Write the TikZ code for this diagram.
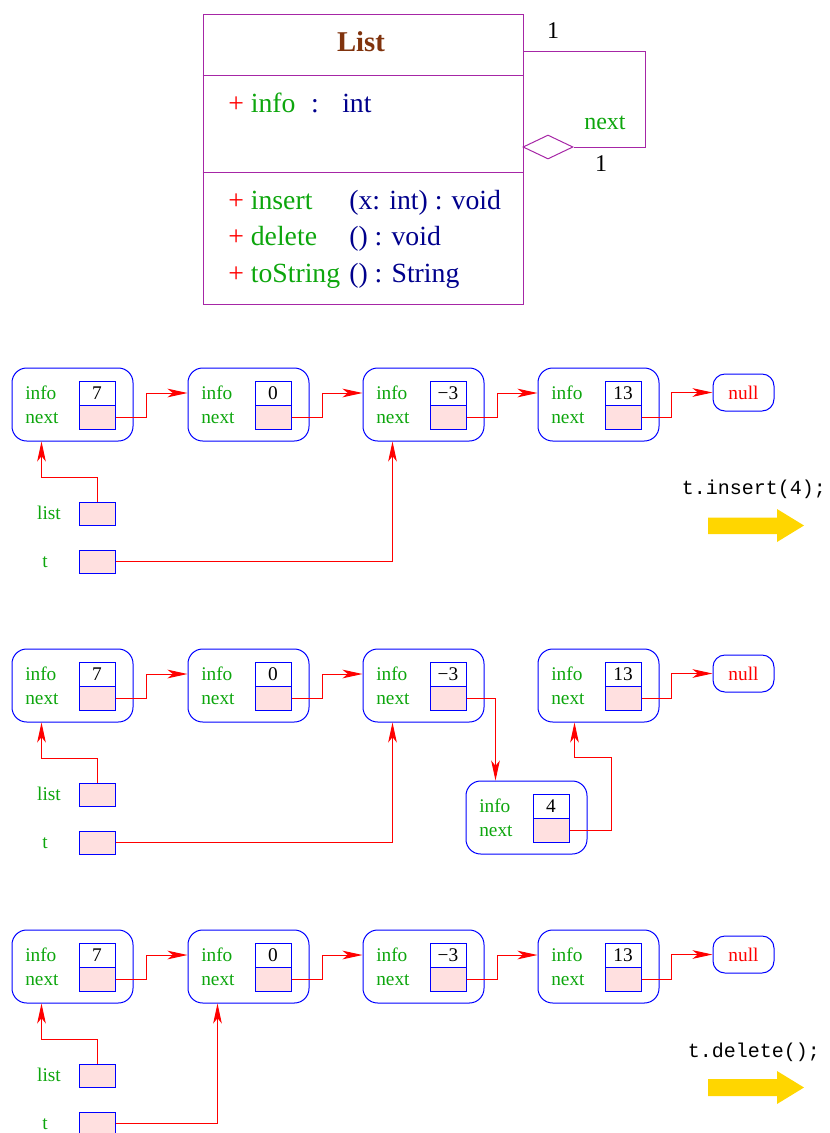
\documentclass[tikz,border=0pt]{standalone}
\usepackage{fontspec}
\setmainfont{Liberation Serif}
\setmonofont{Liberation Mono}
\usetikzlibrary{arrows.meta,shapes.geometric}

\definecolor{umlpurple}{rgb}{0.65,0.15,0.65}
\definecolor{attrgreen}{rgb}{0.05,0.65,0.05}
\definecolor{typeblue}{rgb}{0,0,0.55}
\definecolor{titlebrown}{rgb}{0.5,0.2,0.05}
\definecolor{cellpink}{rgb}{1,0.88,0.88}
\definecolor{arrowgold}{rgb}{1,0.84,0}

\tikzset{
  outerbox/.style={draw=blue, rounded corners=11pt, minimum width=90.75pt, minimum height=54.75pt, inner sep=0pt, line width=0.75pt},
  cellbox/.style={draw=blue, minimum width=27pt, minimum height=18pt, inner sep=0pt, line width=0.75pt, font=\fontsize{14.5}{16}\selectfont},
  ptrbox/.style={cellbox, fill=cellpink},
  fieldlbl/.style={anchor=base west, text=attrgreen, inner sep=0pt, font=\fontsize{14.5}{16}\selectfont},
  varlbl/.style={anchor=base, text=attrgreen, inner sep=0pt, font=\fontsize{14.5}{16}\selectfont},
  ptr/.style={draw=red, line width=0.75pt, -{Stealth[length=15pt,width=6.5pt,inset=4pt]}},
  umlline/.style={draw=umlpurple, line width=0.75pt},
  umltext/.style={inner sep=0pt, anchor=base west, font=\fontsize{20.8}{24}\selectfont},
  umlsmall/.style={inner sep=0pt, font=\fontsize{18}{20}\selectfont},
}

% one list element: name, left, top, value
\newcommand{\elem}[4]{%
  \node[outerbox] (#1) at (#2+60.5,#3+36.5) {};
  \node[cellbox] (#1v) at (#2+85,#3+25) {#4};
  \node[ptrbox] (#1p) at (#2+85,#3+49) {};
  \node[fieldlbl] (#1i) at (#2+13,#3+31) {info};
  \node[fieldlbl] (#1n) at (#2+13,#3+55) {next};
}

\begin{document}
\begin{tikzpicture}[x=0.75pt,y=-0.75pt]
\useasboundingbox (0,0) rectangle (830,1133);

% class diagram
\node[umlline, minimum width=240pt, minimum height=217.5pt, inner sep=0pt] (cls) at (363,159) {};
\draw[umlline] (cls.west |- 0,75) -- (cls.east |- 0,75);
\draw[umlline] (cls.west |- 0,172) -- (cls.east |- 0,172);
\node[font=\bfseries\fontsize{21.5}{24}\selectfont, text=titlebrown] (title) at (361,42) {List};
\node[umltext] (fInfo) at (228,112) {\textcolor{red}{+} \textcolor{attrgreen}{info}};
\node[umltext, anchor=base, text=typeblue] (fColon) at (315,112) {:};
\node[umltext, text=typeblue] (fType) at (342,112) {int};
\node[umltext] (mIns) at (228,209) {\textcolor{red}{+} \textcolor{attrgreen}{insert}};
\node[umltext, text=typeblue] (mInsSig) at (349,209) {(x: int) : void};
\node[umltext] (mDel) at (228,245.5) {\textcolor{red}{+} \textcolor{attrgreen}{delete}};
\node[umltext, text=typeblue] (mDelSig) at (349,245.5) {() : void};
\node[umltext] (mStr) at (228,282) {\textcolor{red}{+} \textcolor{attrgreen}{toString}};
\node[umltext, text=typeblue] (mStrSig) at (349,282) {() : String};

% self aggregation
\node[diamond, umlline, minimum width=37.5pt, minimum height=18pt, inner sep=0pt] (agg) at (548,147) {};
\coordinate (selfout) at (523,51);
\draw[umlline] (selfout) -- ++(122,0) |- (agg.east);
\node[umlsmall] (multTop) at (553,31) {1};
\node[umlsmall, text=attrgreen] (role) at (605,123) {next};
\node[umlsmall] (multBot) at (601,164) {1};

% the three list states
\foreach \r/\dy in {1/0,2/281,3/562} {
  \elem{row\r-a}{12}{368+\dy}{7}
  \elem{row\r-b}{188}{368+\dy}{0}
  \elem{row\r-c}{363}{368+\dy}{−3}
  \elem{row\r-e}{538}{368+\dy}{13}
  \node[draw=blue, line width=0.75pt, rounded corners=9pt, minimum width=45.75pt, minimum height=27.75pt, inner sep=0pt, text=red, font=\fontsize{14.5}{16}\selectfont] (row\r-z) at (743.5,392.5+\dy) {null};
  \node[ptrbox, minimum height=17.25pt] (row\r-L) at (97,513.5+\dy) {};
  \node[varlbl] (row\r-Ll) at (49,519+\dy) {list};
  \node[ptrbox, minimum height=17.25pt] (row\r-T) at (97,561.5+\dy) {};
  \node[varlbl] (row\r-Tl) at (45,567+\dy) {t};
  \draw[ptr] (row\r-ap.east) -- ++(31,0) |- (row\r-b.west |- row\r-bv);
  \draw[ptr] (row\r-bp.east) -- ++(31,0) |- (row\r-c.west |- row\r-cv);
  \draw[ptr] (row\r-ep.east) -- ++(30,0) |- (row\r-z.west);
  \draw[ptr] (row\r-L.north) -- ++(0,-24) -| ([xshift=22.5pt]row\r-a.south west);
}

% before insert
\draw[ptr] (row1-cp.east) -- ++(31,0) |- (row1-e.west |- row1-ev);
\draw[ptr] (row1-T.east) -| ([xshift=22.5pt]row1-c.south west);
\node[font=\ttfamily\fontsize{15}{18}\selectfont] (cmdIns) at (754,489) {t.insert(4);};
\fill[arrowgold] (708,517.5) -- (777,517.5) -- (777,509) -- (804,525.5) -- (777,542) -- (777,534) -- (708,534) -- cycle;

% after insert
\elem{row2-d}{466}{781}{4}
\draw[ptr] (row2-cp.east) -| ([xshift=22.5pt]row2-d.north west);
\draw[ptr] (row2-dp.east) -- ++(42,0) -- ++(0,-73) -| ([xshift=27.75pt]row2-e.south west);
\draw[ptr] (row2-T.east) -| ([xshift=22.5pt]row2-c.south west);

% before delete
\draw[ptr] (row3-cp.east) -- ++(31,0) |- (row3-e.west |- row3-ev);
\draw[ptr] (row3-T.east) -| ([xshift=22.5pt]row3-b.south west);
\node[font=\ttfamily\fontsize{15}{18}\selectfont] (cmdDel) at (754,1052) {t.delete();};
\fill[arrowgold] (708,1079) -- (777,1079) -- (777,1071) -- (804,1087.5) -- (777,1104) -- (777,1096) -- (708,1096) -- cycle;
\end{tikzpicture}
\end{document}
